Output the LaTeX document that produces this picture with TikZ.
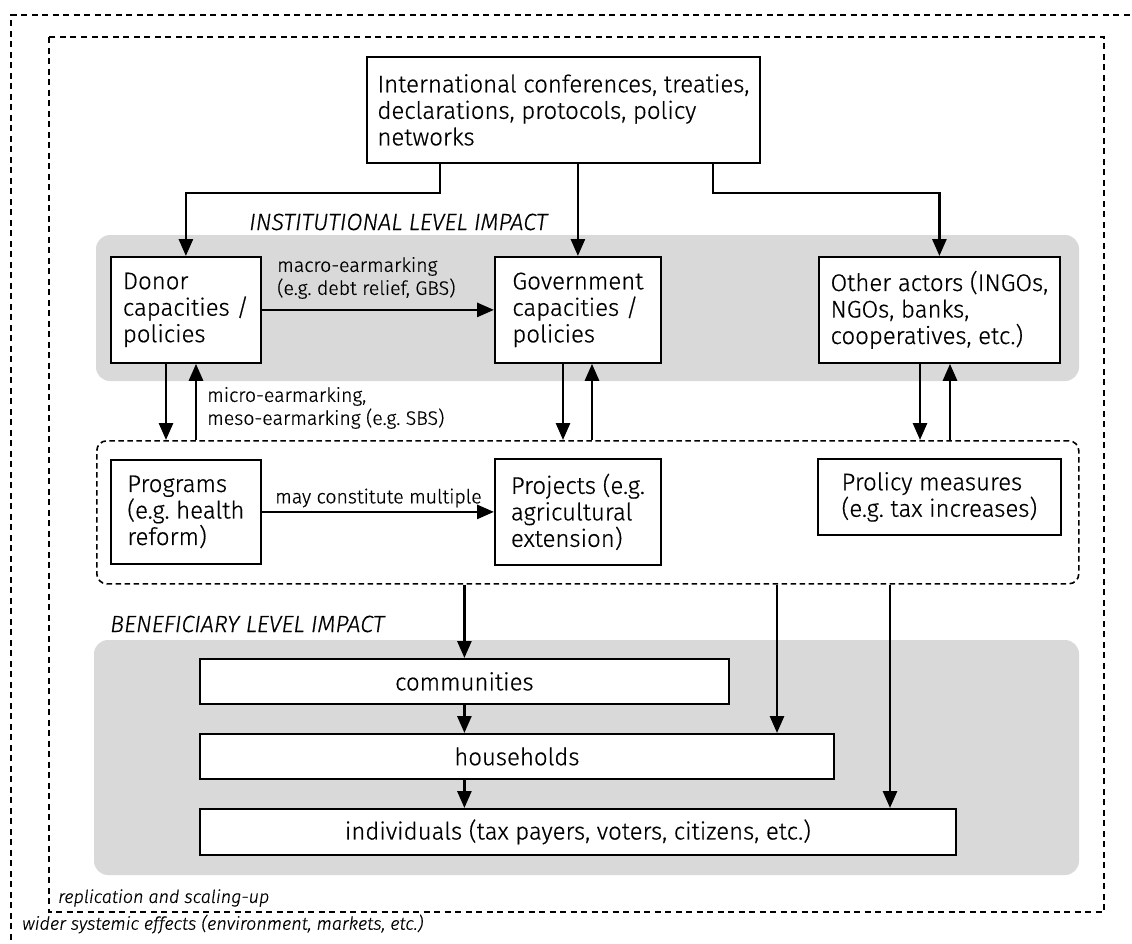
\documentclass[tikz,border=0pt]{standalone}
\usepackage{fontspec}
\setmainfont{Fira Sans}[UprightFont=* Light, ItalicFont=* Light Italic, UprightFeatures={FakeBold=0.6}, ItalicFeatures={FakeBold=0.6}]
\usetikzlibrary{arrows.meta,calc}
\frenchspacing
\definecolor{bandgray}{HTML}{D9D9D9}
\tikzset{
 box/.style={draw=black, line width=1.8pt, fill=white, anchor=north west, inner xsep=10pt, inner ysep=0pt, align=left, font=\fontsize{24}{26.5}\selectfont},
 cbox/.style={draw=black, line width=1.8pt, fill=white, anchor=north west, inner sep=0pt, align=center, font=\fontsize{24}{26.5}\selectfont},
 arr/.style={line width=2.8pt, -{Triangle[length=17pt,width=14pt]}},
 lbl/.style={anchor=west, inner sep=0pt, align=left, font=\fontsize{19.5}{23}\selectfont},
 lvl/.style={anchor=west, inner sep=0pt, font=\fontsize{23.4}{25}\selectfont\itshape},
 note/.style={anchor=west, inner sep=0pt, font=\fontsize{18}{22}\selectfont\itshape},
 band/.style={fill=bandgray, rounded corners=14pt},
 outerdash/.style={line width=2.2pt, dash pattern=on 6pt off 4.5pt},
 contdash/.style={draw=black, line width=1.6pt, dash pattern=on 5.5pt off 3.5pt, rounded corners=10pt, anchor=north west, inner sep=0pt},
}
\begin{document}
\begin{tikzpicture}[x=1pt,y=-1pt]
\useasboundingbox (0,0) rectangle (1132,943);
% frames
\draw[outerdash] (11,950) -- (11,15) -- (1140,15);
\draw[outerdash] (49,37) rectangle (1104,912);
% bands
\fill[band] (96,235) rectangle (1079,381);
\fill[band] (94,640) rectangle (1079,875);
% container
\node[contdash, minimum width=982pt, minimum height=143pt] (cont) at (96,440) {};
% boxes
\node[box, minimum width=393pt, minimum height=106pt] (top) at (366,56) {International conferences, treaties,\\declarations, protocols, policy\\networks};
\node[box, minimum width=150pt, minimum height=106pt] (donor) at (110,256) {Donor\\capacities /\\policies};
\node[box, minimum width=166pt, minimum height=106pt] (gov) at (494,256) {Government\\capacities /\\policies};
\node[box, minimum width=241pt, minimum height=106pt] (other) at (818,256) {Other actors (INGOs,\\NGOs, banks,\\cooperatives, etc.)};
\node[box, minimum width=150pt, minimum height=104pt] (prog) at (110,459) {Programs\\(e.g. health\\reform)};
\node[box, minimum width=166pt, minimum height=106pt] (proj) at (494,458) {Projects (e.g.\\agricultural\\extension)};
\node[box, minimum width=243pt, minimum height=76pt] (pol) at (817,458) {Prolicy measures\\(e.g. tax increases)};
\node[cbox, minimum width=529pt, minimum height=45pt] (comm) at (199,658) {communities};
\node[cbox, minimum width=634pt, minimum height=45pt] (hh) at (199,733) {households};
\node[cbox, minimum width=756pt, minimum height=46pt] (ind) at (199,808) {individuals (tax payers, voters, citizens, etc.)};
% labels
\node[lvl] (inst) at (249,222) {INSTITUTIONAL LEVEL IMPACT};
\node[lvl] (benef) at (110,624) {BENEFICIARY LEVEL IMPACT};
\node[note] (repl) at (58,898) {replication and scaling-up};
\node[note] (wider) at (22,924) {wider systemic effects (environment, markets, etc.)};
\node[lbl] (macrolbl) at (277,278) {macro-earmarking\\(e.g. debt relief, GBS)};
\node[lbl] (microlbl) at (207,408) {micro-earmarking,\\meso-earmarking (e.g. SBS)};
\node[lbl] (maylbl) at (275,498) {may constitute multiple};
% helper coordinates
\coordinate (tl) at (440,193);
\coordinate (tr) at (713,193);
\coordinate (d1) at (166,0);
\coordinate (d2) at (196,0);
\coordinate (g1) at (563,0);
\coordinate (g2) at (592,0);
\coordinate (o1) at (920,0);
\coordinate (o2) at (950,0);
\coordinate (c2) at (777,0);
\coordinate (c3) at (890,0);
% connectors
\draw[arr] (top.south -| tl) -- (tl) -- (tl -| donor.north) -- (donor.north);
\draw[arr] (top.south -| gov.north) -- (gov.north);
\draw[arr] (top.south -| tr) -- (tr) -- (tr -| other.north) -- (other.north);
\draw[arr] (donor.east) -- (donor.east -| gov.west);
\draw[arr] (donor.south -| d1) -- (cont.north -| d1);
\draw[arr] (cont.north -| d2) -- (donor.south -| d2);
\draw[arr] (gov.south -| g1) -- (cont.north -| g1);
\draw[arr] (cont.north -| g2) -- (gov.south -| g2);
\draw[arr] (other.south -| o1) -- (cont.north -| o1);
\draw[arr] (cont.north -| o2) -- (other.south -| o2);
\draw[arr] (prog.east) -- (prog.east -| proj.west);
\draw[arr] (cont.south -| comm.north) -- (comm.north);
\draw[arr] (cont.south -| c2) -- (hh.north -| c2);
\draw[arr] (cont.south -| c3) -- (ind.north -| c3);
\draw[arr] (comm.south) -- (hh.north -| comm.south);
\draw[arr] (hh.south -| comm.south) -- (ind.north -| comm.south);
\end{tikzpicture}
\end{document}
